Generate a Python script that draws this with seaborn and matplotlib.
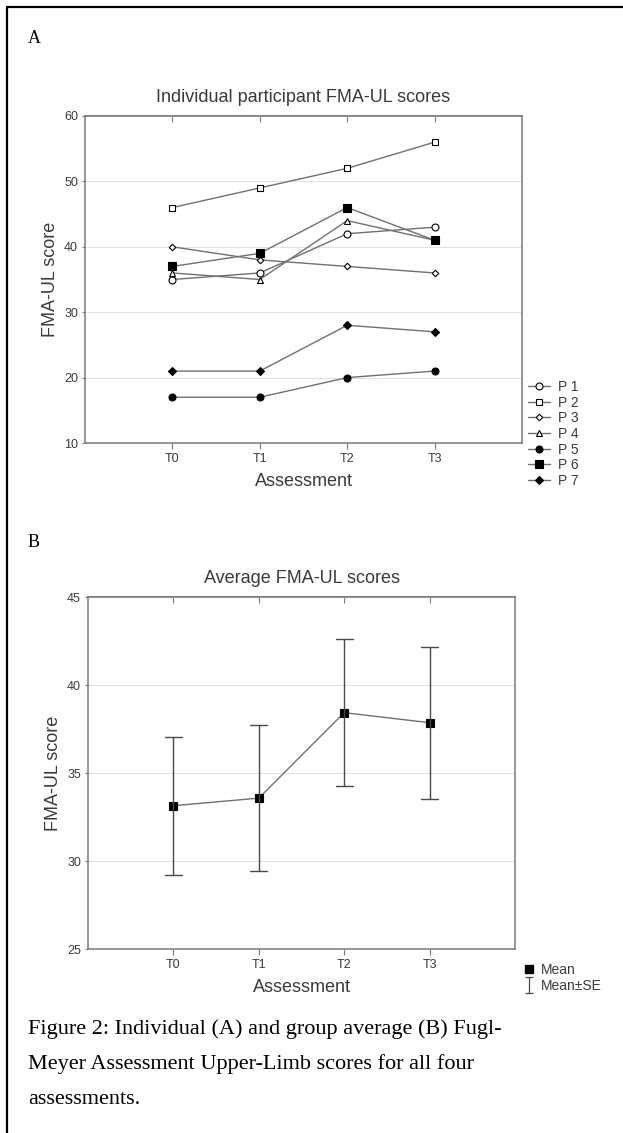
import numpy as np
import pandas as pd
import matplotlib
matplotlib.use("Agg")
import matplotlib.pyplot as plt
import seaborn as sns
from matplotlib.lines import Line2D
from matplotlib.path import Path

# ---------------- data ----------------
assessments = ["T0", "T1", "T2", "T3"]
participants = ["P 1", "P 2", "P 3", "P 4", "P 5", "P 6", "P 7"]
p1 = [35, 36, 42, 43]
p2 = [46, 49, 52, 56]
p3 = [40, 38, 37, 36]
p4 = [36, 35, 44, 41]
p5 = [17, 17, 20, 21]
p6 = [37, 39, 46, 41]
p7 = [21, 21, 28, 27]
scores = [p1, p2, p3, p4, p5, p6, p7]

records = []
for name, vals in zip(participants, scores):
    for t, v in zip(assessments, vals):
        records.append({"Participant": name, "Assessment": t, "Score": v})
df = pd.DataFrame(records)

# ---------------- style ----------------
sns.set_theme(style="white")
plt.rcParams["font.family"] = ["Liberation Sans", "DejaVu Sans"]
TXT = "#3a3a3a"
SPINE = "#7a7a7a"
LINE = "#707070"

W, H = 623, 1133
fig = plt.figure(figsize=(W / 100, H / 100), dpi=100)
fig.patch.set_facecolor("white")


def rect(l, t, r, b):
    return [l / W, 1 - b / H, (r - l) / W, (b - t) / H]


axA = fig.add_axes(rect(85, 116, 522, 443))
axB = fig.add_axes(rect(88, 597, 515, 949))

marker_styles = {
    "P 1": dict(marker="o", markerfacecolor="white", markersize=5),
    "P 2": dict(marker="s", markerfacecolor="white", markersize=5),
    "P 3": dict(marker="D", markerfacecolor="white", markersize=3.3),
    "P 4": dict(marker="^", markerfacecolor="white", markersize=5),
    "P 5": dict(marker="o", markerfacecolor="black", markersize=5),
    "P 6": dict(marker="s", markerfacecolor="black", markersize=6),
    "P 7": dict(marker="D", markerfacecolor="black", markersize=4.2),
}

for name in participants:
    sub = df[df["Participant"] == name]
    sns.lineplot(data=sub, x="Assessment", y="Score", ax=axA, label=name,
                 color=LINE, linewidth=1.0, errorbar=None, sort=False,
                 markeredgecolor="black", markeredgewidth=0.8,
                 **marker_styles[name])

sns.pointplot(data=df, x="Assessment", y="Score", order=assessments,
              errorbar="se", capsize=0.2, color=LINE, markers="s",
              linestyles="-", markersize=6, linewidth=1.0,
              markerfacecolor="black", markeredgecolor="black",
              markeredgewidth=0.8,
              err_kws={"color": "#4a4a4a", "linewidth": 1.0}, ax=axB)

# ---------------- axes formatting ----------------
for ax, yt, title in [(axA, range(10, 61, 10), "Individual participant FMA-UL scores"),
                      (axB, range(25, 46, 5), "Average FMA-UL scores")]:
    ax.set_xlim(-1, 4)
    ax.set_ylim(min(yt), max(yt))
    ax.set_xticks(range(len(assessments)))
    ax.set_xticklabels(assessments)
    ax.set_yticks(list(yt))
    ax.yaxis.grid(True, color="#e2e2e2", linewidth=0.8)
    ax.xaxis.grid(False)
    ax.set_axisbelow(True)
    for s in ax.spines.values():
        s.set_color(SPINE)
        s.set_linewidth(1.1)
        s.set_visible(True)
    ax.tick_params(axis="x", bottom=True, direction="out", length=4, width=0.8,
                   color=SPINE, labelsize=9, labelcolor=TXT, pad=3)
    ax.tick_params(axis="y", left=True, direction="out", length=2, width=0.8,
                   color=SPINE, labelsize=9, labelcolor=TXT, pad=3)
    sec = ax.secondary_xaxis("top")
    sec.set_xticks(range(len(assessments)))
    sec.set_xticklabels([])
    sec.tick_params(direction="in", length=4, width=0.8, color=SPINE)
    sec.spines["top"].set_color(SPINE)
    sec.spines["top"].set_linewidth(1.1)
    ax.set_title(title, fontsize=13, color=TXT, pad=10)
    ax.set_xlabel("Assessment", fontsize=13, color=TXT, labelpad=6)
    ax.set_ylabel("FMA-UL score", fontsize=13, color=TXT, labelpad=4)

# legend A
hA, lA = axA.get_legend_handles_labels()
if axA.get_legend():
    axA.get_legend().remove()
fig.legend(hA, lA, loc="center left", bbox_to_anchor=(528 / W, 1 - 434 / H),
           frameon=False, fontsize=10, handlelength=1.6, handletextpad=0.55,
           labelspacing=0.12, borderpad=0, borderaxespad=0, labelcolor=TXT)

# legend B
bar_path = Path([(-0.5, 1), (0.5, 1), (0, 1), (0, -1), (-0.5, -1), (0.5, -1)],
                [Path.MOVETO, Path.LINETO, Path.MOVETO, Path.LINETO,
                 Path.MOVETO, Path.LINETO])
h_mean = Line2D([], [], linestyle="none", marker="s", markersize=6,
                markerfacecolor="black", markeredgecolor="black")
h_se = Line2D([], [], linestyle="none", marker=bar_path, markersize=11,
              markerfacecolor="none", markeredgecolor="#4a4a4a",
              markeredgewidth=0.9)
fig.legend([h_mean, h_se], ["Mean", "Mean\u00b1SE"], loc="center left",
           bbox_to_anchor=(523 / W, 1 - 978 / H), frameon=False, fontsize=10,
           handlelength=0.8, handletextpad=0.5, labelspacing=0.12,
           borderpad=0, borderaxespad=0, labelcolor=TXT)

# ---------------- panel letters, caption, frame ----------------
serif = ["Liberation Serif", "DejaVu Serif"]
fig.text(28 / W, 1 - 43 / H, "A", family=serif, fontsize=13, color="black",
         va="baseline", ha="left")
fig.text(28 / W, 1 - 547 / H, "B", family=serif, fontsize=13, color="black",
         va="baseline", ha="left")
caption = ["Figure 2: Individual (A) and group average (B) Fugl-",
           "Meyer Assessment Upper-Limb scores for all four",
           "assessments."]
for line, yb in zip(caption, [1034, 1069, 1104]):
    fig.text(28 / W, 1 - yb / H, line, family=serif, fontsize=16,
             color="black", va="baseline", ha="left")

fig.add_artist(Line2D([7 / W, 1], [1 - 7 / H, 1 - 7 / H], color="black",
                      linewidth=1.6, transform=fig.transFigure))
fig.add_artist(Line2D([7 / W, 7 / W], [1 - 7 / H, 0], color="black",
                      linewidth=1.6, transform=fig.transFigure))

fig.savefig("out.png", dpi=100, facecolor="white")
